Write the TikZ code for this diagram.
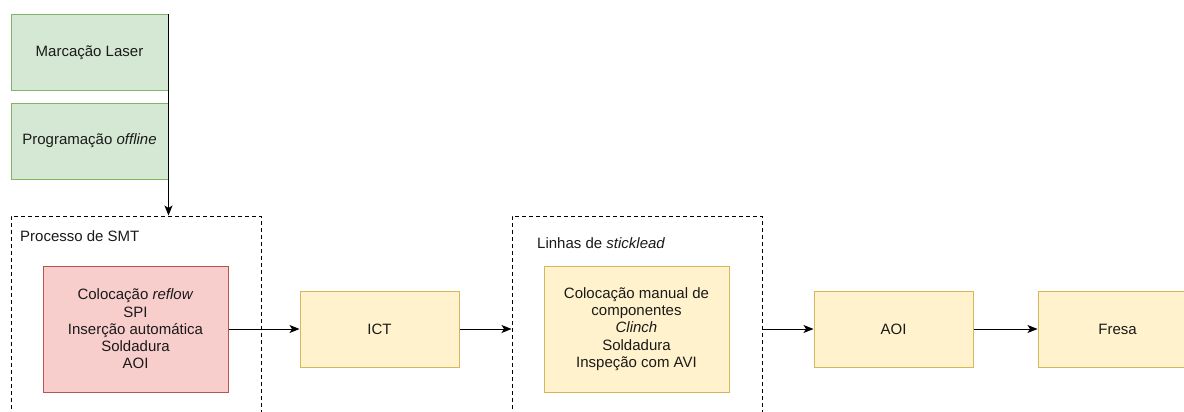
\documentclass[tikz,border=0pt]{standalone}
\usepackage{fontspec}
\setmainfont{Liberation Sans}
\usetikzlibrary{arrows.meta}
\definecolor{gfill}{HTML}{D5E8D4}\definecolor{gline}{HTML}{82B366}
\definecolor{rfill}{HTML}{F8CECC}\definecolor{rline}{HTML}{B85450}
\definecolor{yfill}{HTML}{FFF2CC}\definecolor{yline}{HTML}{D6B656}
\definecolor{txt}{HTML}{1A1A1A}
\begin{document}
\begin{tikzpicture}[x=1pt,y=-1pt,
  every node/.style={font=\fontsize{15}{17.3}\selectfont, text=txt},
  box/.style={draw, line width=1pt, inner sep=0pt, align=center},
  greenbox/.style={box, fill=gfill, draw=gline},
  redbox/.style={box, fill=rfill, draw=rline},
  yellowbox/.style={box, fill=yfill, draw=yline},
  group/.style={draw, line width=1pt, dash pattern=on 4pt off 3pt, inner sep=0pt},
  arr/.style={line width=1pt, -{Stealth[length=10pt,width=8pt,inset=2.5pt]}},
  lbl/.style={anchor=west, inner sep=0pt}]
\useasboundingbox (0,0) rectangle (1184,412);
\clip (0,0) rectangle (1184,412);
\fill[white] (0,0) rectangle (1184,412);
% groups
\node[group, minimum width=250pt, minimum height=270pt] (smt) at (136,351) {};
\node[group, minimum width=250pt, minimum height=270pt] (stick) at (637,351) {};
\node[lbl] (smtlbl) at (20,236) {Processo de SMT};
\node[lbl] (sticklbl) at (537,243) {Linhas de \textit{sticklead}};
% green
\node[greenbox, minimum width=157pt, minimum height=76pt] (g1) at (89.5,53) {Marcação Laser};
\node[greenbox, minimum width=157pt, minimum height=76pt] (g2) at (89.5,141) {Programação \textit{offline}};
% process
\node[redbox, minimum width=185pt, minimum height=126pt] (red) at (135.5,329) {Colocação \textit{reflow}\\SPI\\Inserção automática\\Soldadura\\AOI};
\node[yellowbox, minimum width=159pt, minimum height=76pt] (ict) at (379.5,329) {ICT};
\node[yellowbox, minimum width=185pt, minimum height=126pt] (man) at (636.5,329) {Colocação manual de\\componentes\\\textit{Clinch}\\Soldadura\\Inspeção com AVI};
\node[yellowbox, minimum width=159pt, minimum height=76pt] (aoi) at (893.5,329) {AOI};
\node[yellowbox, minimum width=159pt, minimum height=76pt] (fresa) at (1117.5,329) {Fresa};
% connectors
\draw[arr] (g1.north east) -- (smt.north -| g1.east);
\draw[arr] (red.east) -- (ict.west);
\draw[arr] (ict.east) -- (stick.west |- ict.east);
\draw[arr] (stick.east |- aoi.west) -- (aoi.west);
\draw[arr] (aoi.east) -- (fresa.west);
\end{tikzpicture}
\end{document}
